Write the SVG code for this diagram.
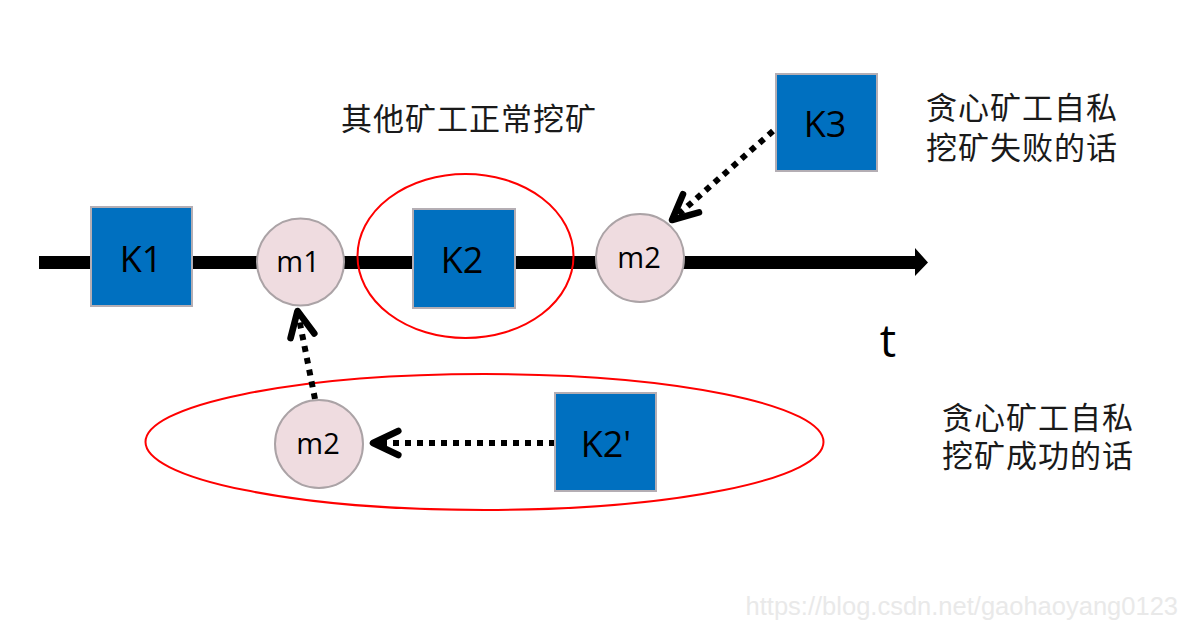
<svg xmlns="http://www.w3.org/2000/svg" width="1186" height="629" viewBox="0 0 1186 629">
  <style>
    .block { fill: #0070C0; stroke: #B4AEB4; stroke-width: 2; }
    .msg { fill: #EFDCE0; stroke: #ABA3A6; stroke-width: 2; }
    .ring { fill: none; stroke: #FF0000; stroke-width: 2; }
    .lbl { font-family: "Open Sans", "Liberation Sans", sans-serif; fill: #000; text-anchor: middle; }
    .cn { font-family: "Noto Sans CJK SC", sans-serif; font-size: 31px; letter-spacing: 1px; fill: #1a1a1a; }
    .dots { fill: none; stroke: #000; stroke-width: 6; stroke-dasharray: 6 6; }
  </style>
  <defs>
    <marker id="chevron" markerUnits="userSpaceOnUse" markerWidth="44" markerHeight="44" viewBox="-32 -18 40 36" refX="0" refY="0" orient="auto">
      <path d="M -23 -11 L 0 0 L -23 11" fill="none" stroke="#000" stroke-width="6" stroke-linecap="round" stroke-linejoin="round"/>
    </marker>
  </defs>

  <rect width="1186" height="629" fill="#FFFFFF"/>

  <!-- time axis -->
  <g id="axis">
    <path d="M 39 256 L 915 256 L 915 248 L 928 262.5 L 915 276 L 915 269 L 39 269 Z" fill="#000"/>
    <text x="888" y="357" font-family="Open Sans, Liberation Sans, sans-serif" font-size="46" text-anchor="middle" fill="#000">t</text>
  </g>

  <!-- red grouping rings -->
  <g id="ring-k2">
    <ellipse class="ring" cx="465.5" cy="256" rx="108" ry="82"/>
  </g>
  <g id="ring-fork">
    <ellipse class="ring" cx="484.5" cy="442" rx="339" ry="68"/>
  </g>

  <!-- connectors -->
  <g id="connectors">
    <path class="dots" d="M 773 131 L 672 220" marker-end="url(#chevron)"/>
    <path class="dots" d="M 315 399 L 297.5 311" marker-end="url(#chevron)"/>
    <path class="dots" d="M 555 443 L 373 443" marker-end="url(#chevron)"/>
  </g>

  <!-- blocks -->
  <g id="K1">
    <rect class="block" x="91" y="207" width="101" height="99"/>
    <text class="lbl" x="141" y="272" font-size="36">K1</text>
  </g>
  <g id="m1">
    <circle class="msg" cx="300.5" cy="262" r="43.5"/>
    <text class="lbl" x="298" y="272" font-size="29">m1</text>
  </g>
  <g id="K2">
    <rect class="block" x="413" y="209" width="102" height="99"/>
    <text class="lbl" x="462" y="273" font-size="36">K2</text>
  </g>
  <g id="m2-top">
    <circle class="msg" cx="640" cy="258" r="44"/>
    <text class="lbl" x="639" y="268" font-size="29">m2</text>
  </g>
  <g id="K3">
    <rect class="block" x="776" y="74" width="101" height="97"/>
    <text class="lbl" x="825" y="137" font-size="36">K3</text>
  </g>
  <g id="m2-fork">
    <circle class="msg" cx="319" cy="444" r="44"/>
    <text class="lbl" x="318" y="454" font-size="29">m2</text>
  </g>
  <g id="K2-fork">
    <rect class="block" x="555" y="393" width="101" height="98"/>
    <text class="lbl" x="606" y="457" font-size="36">K2'</text>
  </g>

  <!-- captions -->
  <g id="caption-normal">
    <text class="cn" x="341" y="130">其他矿工正常挖矿</text>
  </g>
  <g id="caption-fail">
    <text class="cn"><tspan x="926" y="119">贪心矿工自私</tspan><tspan x="926" y="159">挖矿失败的话</tspan></text>
  </g>
  <g id="caption-success">
    <text class="cn"><tspan x="942" y="429">贪心矿工自私</tspan><tspan x="942" y="467">挖矿成功的话</tspan></text>
  </g>

  <text x="1178" y="615" font-family="Liberation Sans, Arial, sans-serif" font-size="25.5" text-anchor="end" fill="#E9E9E9">https://blog.csdn.net/gaohaoyang0123</text>
</svg>
